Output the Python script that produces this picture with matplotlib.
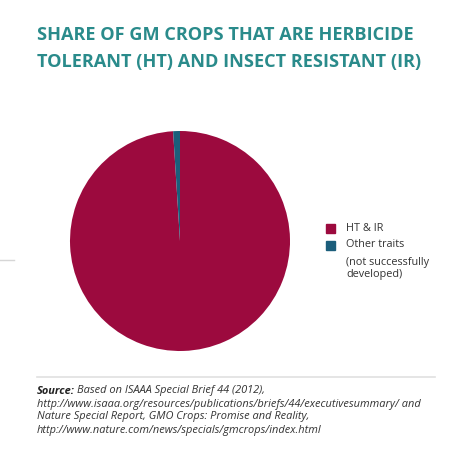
import matplotlib.pyplot as plt
from matplotlib.patches import Rectangle

# data
labels = ['HT & IR', 'Other traits']
shares = [99, 1]
colors = ['#9c0a3e', '#1b5e7b']

title_lines = ['SHARE OF GM CROPS THAT ARE HERBICIDE',
               'TOLERANT (HT) AND INSECT RESISTANT (IR)']
source_lines = ['http://www.isaaa.org/resources/publications/briefs/44/executivesummary/ and',
                'Nature Special Report, GMO Crops: Promise and Reality,',
                'http://www.nature.com/news/specials/gmcrops/index.html']

W, H = 474, 476
fig = plt.figure(figsize=(W / 100, H / 100), dpi=100)
fig.patch.set_facecolor('white')

def fx(px):
    return px / W

def fy(py):
    return 1 - py / H

# title
for i, line in enumerate(title_lines):
    fig.text(fx(37), fy(35 + i * 27), line, fontsize=13.1, fontweight='bold',
             family='Open Sans', color='#2a8b8b', va='center', ha='left')

# pie
ax = fig.add_axes([fx(70), fy(351), fx(220), 220 / H])
ax.pie(shares, colors=colors, startangle=90, counterclock=False,
       wedgeprops=dict(linewidth=0))
ax.set_xlim(-1, 1)
ax.set_ylim(-1, 1)
ax.set_aspect('equal')
ax.axis('off')

# legend
for i, (lab, col) in enumerate(zip(labels, colors)):
    y = 228 + i * 17
    fig.patches.append(Rectangle((fx(326), fy(y + 4.5)), fx(9), 9 / H,
                                 transform=fig.transFigure, color=col))
    fig.text(fx(346), fy(y), lab, fontsize=7.8, family='Open Sans',
             color='#333333', va='center', ha='left')
fig.text(fx(346), fy(262), '(not successfully', fontsize=7.8, family='Open Sans',
         color='#333333', va='center', ha='left')
fig.text(fx(346), fy(275), 'developed)', fontsize=7.8, family='Open Sans',
         color='#333333', va='center', ha='left')

# small gray tick on the left edge
fig.add_artist(plt.Line2D([0, fx(14)], [fy(260), fy(260)], color='#d6d6d6', lw=1))

# source separator
fig.add_artist(plt.Line2D([fx(37), fx(435)], [fy(377), fy(377)], color='#e0e0e0', lw=1.2))

# source
fig.text(fx(37), fy(391), 'Source:', fontsize=7.9, family='Open Sans',
         style='italic', fontweight='bold', color='#222222', va='center', ha='left')
fig.text(fx(77), fy(391), 'Based on ISAAA Special Brief 44 (2012),', fontsize=7.9,
         family='Open Sans', style='italic', color='#333333', va='center', ha='left')
for i, line in enumerate(source_lines):
    fig.text(fx(37), fy(404 + i * 13), line, fontsize=7.9, family='Open Sans',
             style='italic', color='#333333', va='center', ha='left')

fig.savefig('out.png', dpi=100, facecolor='white')
